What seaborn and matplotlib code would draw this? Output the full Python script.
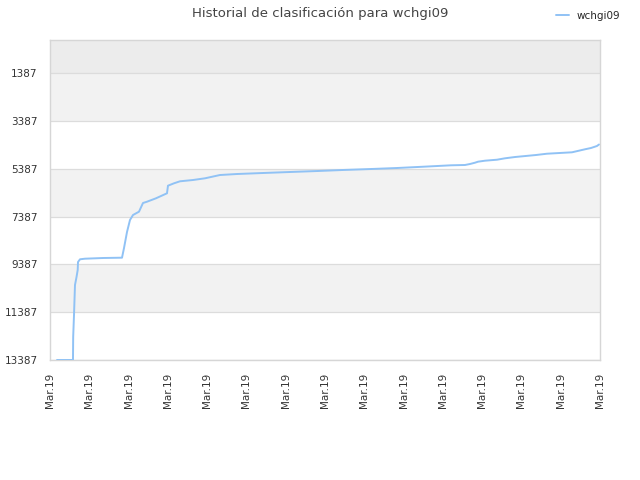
import matplotlib
matplotlib.use("Agg")
import matplotlib.pyplot as plt
import seaborn as sns
import pandas as pd

# ---- data ----
x_pos = [0.178, 0.585, 0.59, 0.611, 0.636, 0.675, 0.705, 0.713, 0.764, 0.891,
         1.349, 1.833, 1.884, 1.960, 2.036, 2.113, 2.265, 2.367, 2.469, 2.698,
         2.978, 3.003, 3.156, 3.309, 3.640, 3.945, 4.327, 4.760, 5.422, 6.109,
         6.822, 7.458, 8.171, 8.833, 9.520, 10.207, 10.564, 10.691, 10.818, 10.895,
         11.073, 11.378, 11.582, 11.836, 12.371, 12.651, 13.287, 13.618, 13.771,
         13.923, 13.974]
rank = [13387, 13387, 12425, 11504, 10249, 9915, 9622, 9287, 9174, 9149,
        9120, 9107, 8702, 8032, 7530, 7321, 7183, 6819, 6765, 6622,
        6413, 6095, 5995, 5911, 5857, 5786, 5648, 5606, 5564, 5522,
        5480, 5438, 5397, 5355, 5300, 5242, 5229, 5187, 5133, 5091,
        5049, 5008, 4949, 4895, 4811, 4757, 4698, 4572, 4518,
        4434, 4372]
y_ticks = [1387, 3387, 5387, 7387, 9387, 11387, 13387]
x_tick_labels = ["Mar.19"] * 15
series_name = "wchgi09"
title = "Historial de clasificación para wchgi09"

df = pd.DataFrame({"x": x_pos, "rank": rank, "serie": series_name})

sns.set_style("white")
plt.rcParams["font.family"] = ["DejaVu Sans"]

fig = plt.figure(figsize=(6.4, 4.8), dpi=100)
ax = fig.add_axes([50 / 640, 120 / 480, 550 / 640, 320 / 480])

# background bands
ax.axhspan(0, 1387, color="#ececec", zorder=0, lw=0)
ax.axhspan(1387, 3387, color="#f2f2f2", zorder=0, lw=0)
ax.axhspan(5387, 7387, color="#f2f2f2", zorder=0, lw=0)
ax.axhspan(9387, 11387, color="#f2f2f2", zorder=0, lw=0)
for yt in y_ticks:
    ax.axhline(yt, color="#dcdcdc", lw=0.9, zorder=1)

sns.lineplot(data=df, x="x", y="rank", hue="serie", palette=["#90c2f5"],
             estimator=None, sort=False, lw=1.4, ax=ax, zorder=3)

ax.set_xlim(0, 14)
ax.set_ylim(13387, 0)
ax.set_yticks(y_ticks)
ax.set_yticklabels([str(v) for v in y_ticks])
ax.set_xticks(range(len(x_tick_labels)))
ax.set_xticklabels(x_tick_labels, rotation=90)
ax.tick_params(axis="both", length=0, labelsize=7.5, colors="#333333")
ax.tick_params(axis="y", pad=9)
ax.tick_params(axis="x", pad=9)
ax.set_xlabel("")
ax.set_ylabel("")
for sp in ax.spines.values():
    sp.set_color("#d6d6d6")
    sp.set_linewidth(1.0)
    sp.set_visible(True)

fig.suptitle(title, x=320 / 640, y=1 - 13 / 480, va="center",
             fontsize=9.5, color="#444444")

leg = ax.legend(loc="center left", bbox_to_anchor=(552 / 640, 1 - 16 / 480),
                bbox_transform=fig.transFigure, frameon=False, fontsize=7.5,
                handlelength=1.2, handletextpad=0.8, borderaxespad=0)

fig.savefig("out.png", dpi=100)
